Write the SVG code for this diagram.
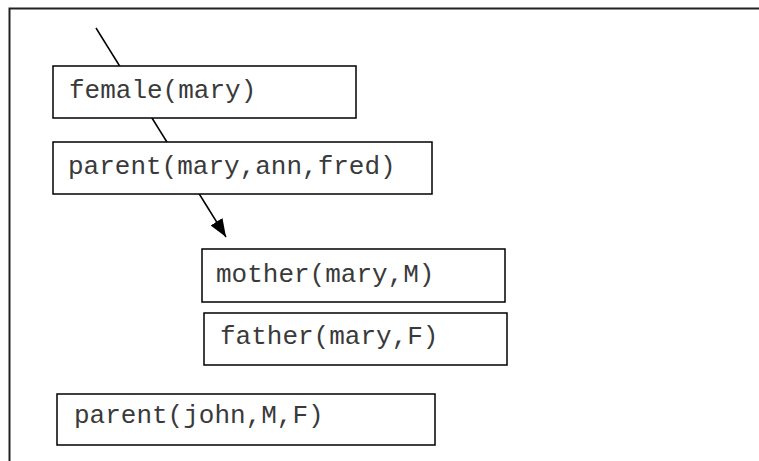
<svg xmlns="http://www.w3.org/2000/svg" width="759" height="461" viewBox="0 0 759 461">
<style>
.box{fill:#fff;stroke:#000;stroke-width:1.5}
.t{font-family:"Liberation Mono","Courier New",monospace;font-size:26px;fill:#3a3a3a}
.c{stroke:#000;stroke-width:1.5;fill:none}
</style>
<defs>
<marker id="ah" viewBox="0 0 18 14" refX="18" refY="7" markerWidth="18" markerHeight="14" markerUnits="userSpaceOnUse" orient="auto">
<path d="M0,0 L18,7 L0,14 Z" fill="#000"/>
</marker>
</defs>
<rect width="759" height="461" fill="#fff"/>
<path d="M9.5,461 V8.5 H759" fill="none" stroke="#222" stroke-width="2"/>
<g id="connectors">
<line class="c" x1="96" y1="28" x2="226" y2="237" marker-end="url(#ah)"/>
</g>
<g id="female">
<rect class="box" x="53" y="66" width="303" height="52"/>
<text class="t" x="69" y="98">female(mary)</text>
</g>
<g id="parent_mary">
<rect class="box" x="53" y="142" width="379" height="52"/>
<text class="t" x="68" y="174">parent(mary,ann,fred)</text>
</g>
<g id="mother">
<rect class="box" x="202" y="249" width="303" height="53"/>
<text class="t" x="216" y="282">mother(mary,M)</text>
</g>
<g id="father">
<rect class="box" x="204" y="313" width="303" height="52"/>
<text class="t" x="220" y="344">father(mary,F)</text>
</g>
<g id="parent_john">
<rect class="box" x="57" y="394" width="378" height="51"/>
<text class="t" x="74" y="423">parent(john,M,F)</text>
</g>
</svg>
